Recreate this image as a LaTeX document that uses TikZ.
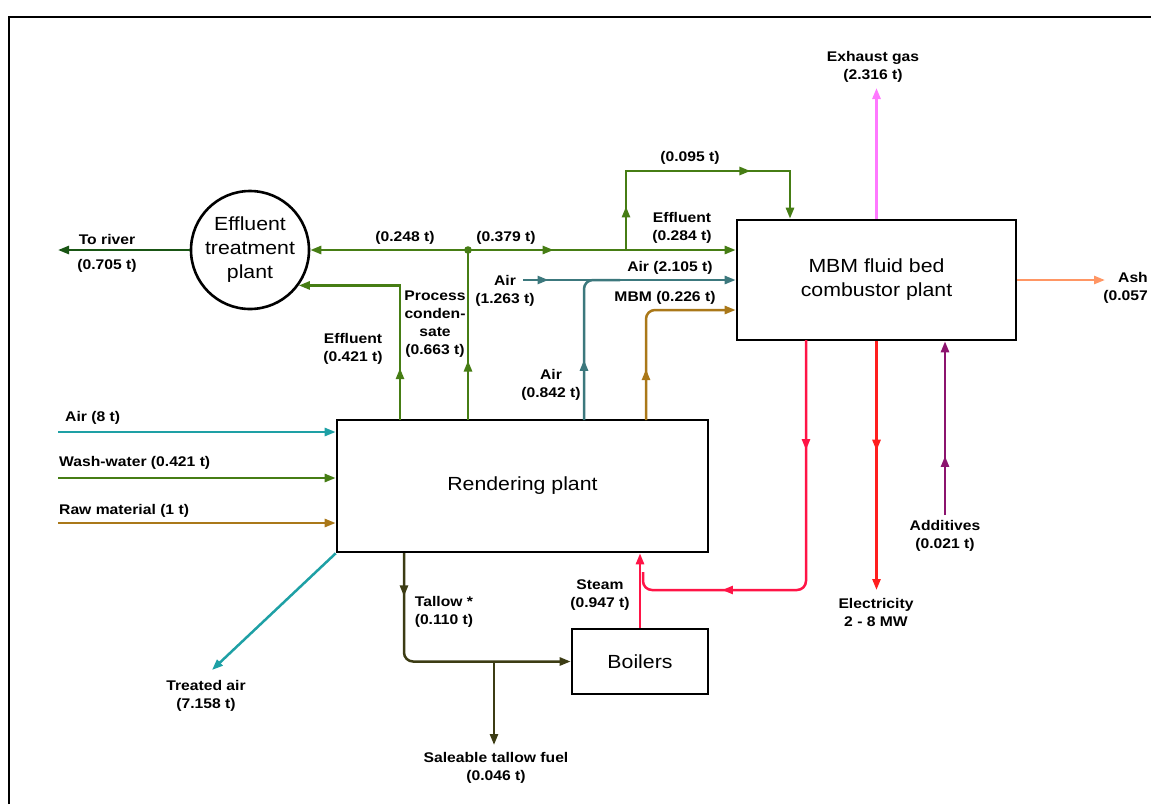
\documentclass[tikz,border=0pt]{standalone}
\usepackage{fontspec}
\setmainfont{Liberation Sans}[FakeStretch=1.12]
\usetikzlibrary{arrows.meta,decorations.markings}

\definecolor{rivergreen}{RGB}{25,85,20}
\definecolor{effgreen}{RGB}{70,125,20}
\definecolor{airteal}{RGB}{30,160,165}
\definecolor{airslate}{RGB}{60,120,125}
\definecolor{mbmbrown}{RGB}{170,120,25}
\definecolor{tallowol}{RGB}{60,60,20}
\definecolor{steamred}{RGB}{255,20,70}
\definecolor{elecred}{RGB}{255,30,30}
\definecolor{exhpink}{RGB}{255,120,255}
\definecolor{ashorange}{RGB}{255,150,100}
\definecolor{addpurple}{RGB}{140,20,110}

\newcommand\flowfont{\fontsize{14}{18}\selectfont\bfseries}
\newcommand\plantfont{\fontsize{19}{24}\selectfont}

\begin{document}
\begin{tikzpicture}[x=1pt,y=-1pt,
  plant/.style={draw,line width=2.6pt,rectangle,inner sep=0pt,font=\plantfont,align=center},
  pipe/.style={line width=2.5pt},
  flow/.style={pipe,-{Triangle[length=11pt,width=8pt]}},
  tipat/.style={postaction={decorate,decoration={markings,
    mark=at position #1 with {\arrow{Triangle[length=11pt,width=8pt]}}}}},
  lbl/.style={font=\flowfont,align=center,inner sep=0pt}]

\useasboundingbox (0,0) rectangle (1151,804);
\draw[line width=2.6pt] (9,804) -- (9,17) -- (1151,17);

\node[plant,minimum width=371pt,minimum height=132pt] (rend) at (522.5,486) {Rendering plant};
\node[plant,minimum width=279pt,minimum height=120pt] (mbm) at (876.5,280) {MBM fluid bed\\combustor plant};
\node[plant,minimum width=136pt,minimum height=65pt] (boil) at (640,661.5) {Boilers};
\node[plant,circle,minimum size=118pt] (etp) at (250,250) {Effluent\\treatment\\plant};

\coordinate (river) at (58,250);
\coordinate (junc) at (468,250);
\coordinate (condsrc) at (468,420);
\coordinate (effsrc) at (400,420);
\coordinate (fork) at (626,250);
\coordinate (bypass) at (790,171);
\coordinate (airsrc) at (523,280);
\coordinate (airup) at (584,420);
\coordinate (airjoin) at (620,280);
\coordinate (mbmsrc) at (646,420);
\coordinate (exhaust) at (876.5,88);
\coordinate (ash) at (1105,280);
\coordinate (heat) at (806,340);
\coordinate (bend) at (643,590);
\coordinate (heatmeet) at (643,572);
\coordinate (elec) at (876.5,590);
\coordinate (addsrc) at (945,515);
\coordinate (air8) at (58,432);
\coordinate (wash) at (58,478);
\coordinate (raw) at (58,523);
\coordinate (treated) at (212,670);
\coordinate (tallow) at (404,553);
\coordinate (tsplit) at (494,661.5);
\coordinate (sale) at (494,745);

\draw[flow,color=rivergreen] (etp) -- (river);
\draw[flow,color=effgreen] (junc) -- (etp);
\draw[flow,color=effgreen,tipat=0.32] (junc) -- (junc -| mbm.west);
\draw[pipe,color=effgreen,tipat=0.35] (condsrc) -- (junc);
\fill[effgreen] (junc) circle (3.8pt);
\draw[flow,color=effgreen,tipat=0.22] (effsrc) |- (etp.-36);
\draw[flow,color=effgreen,tipat=0.15,tipat=0.7] (fork) |- (bypass) -- (bypass |- mbm.north);

\draw[flow,color=airslate,tipat=0.12] (airsrc) -- (airsrc -| mbm.west);
\draw[pipe,color=airslate,rounded corners=9pt,tipat=0.35] (airup) |- (airjoin);
\draw[flow,color=mbmbrown,rounded corners=9pt,tipat=0.26] (mbmsrc) |- ([yshift=-30pt]mbm.west);

\draw[flow,color=exhpink] (mbm.north) -- (exhaust);
\draw[flow,color=ashorange] (mbm.east) -- (ash);
\draw[pipe,color=steamred,rounded corners=9pt,tipat=0.26,tipat=0.78] (heat) |- (bend) -- (heatmeet);
\draw[flow,color=steamred] (boil) -- (rend.south -| boil);
\draw[flow,color=elecred,tipat=0.44] (mbm.south) -- (elec);
\draw[flow,color=addpurple,tipat=0.34] (addsrc) -- (addsrc |- mbm.south);

\draw[flow,color=airteal] (air8) -- (air8 -| rend.west);
\draw[flow,color=effgreen] (wash) -- (wash -| rend.west);
\draw[flow,color=mbmbrown] (raw) -- (raw -| rend.west);
\draw[flow,color=airteal] (rend.south west) -- (treated);
\draw[flow,color=tallowol,rounded corners=9pt,tipat=0.16] (tallow) |- (boil.west);
\draw[flow,color=tallowol] (tsplit) -- (sale);

\node[lbl] (riverlbl) at (107,239) {To river};
\node[lbl] (riverqty) at (107,266) {(0.705 t)};
\node[lbl] (etpqty) at (405,238) {(0.248 t)};
\node[lbl] (juncqty) at (506,238) {(0.379 t)};
\node[lbl] (bypassqty) at (690,158) {(0.095 t)};
\node[lbl] (mbmeff) at (682,228) {Effluent\\(0.284 t)};
\node[lbl] (mbmair) at (670,268) {Air (2.105 t)};
\node[lbl] (airtop) at (505,291) {Air\\(1.263 t)};
\node[lbl] (mbmfeed) at (665,298) {MBM (0.226 t)};
\node[lbl] (condlbl) at (435,324) {Process\\conden-\\sate\\(0.663 t)};
\node[lbl] (efflbl) at (353,349) {Effluent\\(0.421 t)};
\node[lbl] (airlow) at (551,385) {Air\\(0.842 t)};
\node[lbl] (exhlbl) at (873,67) {Exhaust gas\\(2.316 t)};
\node[lbl] (ashlbl) at (1133,288) {Ash\\(0.057 t)};
\node[lbl] (eleclbl) at (876,612) {Electricity\\2 - 8 MW};
\node[lbl] (addlbl) at (945,536) {Additives\\(0.021 t)};
\node[lbl,anchor=west] (air8lbl) at (65,418) {Air (8 t)};
\node[lbl,anchor=west] (washlbl) at (59,463) {Wash-water (0.421 t)};
\node[lbl,anchor=west] (rawlbl) at (59,511) {Raw material (1 t)};
\node[lbl] (treatlbl) at (206,696) {Treated air\\(7.158 t)};
\node[lbl] (tallowlbl) at (444,612) {Tallow *\\(0.110 t)};
\node[lbl] (steamlbl) at (600,595) {Steam\\(0.947 t)};
\node[lbl] (salelbl) at (496,768) {Saleable tallow fuel\\(0.046 t)};

\end{tikzpicture}
\end{document}
